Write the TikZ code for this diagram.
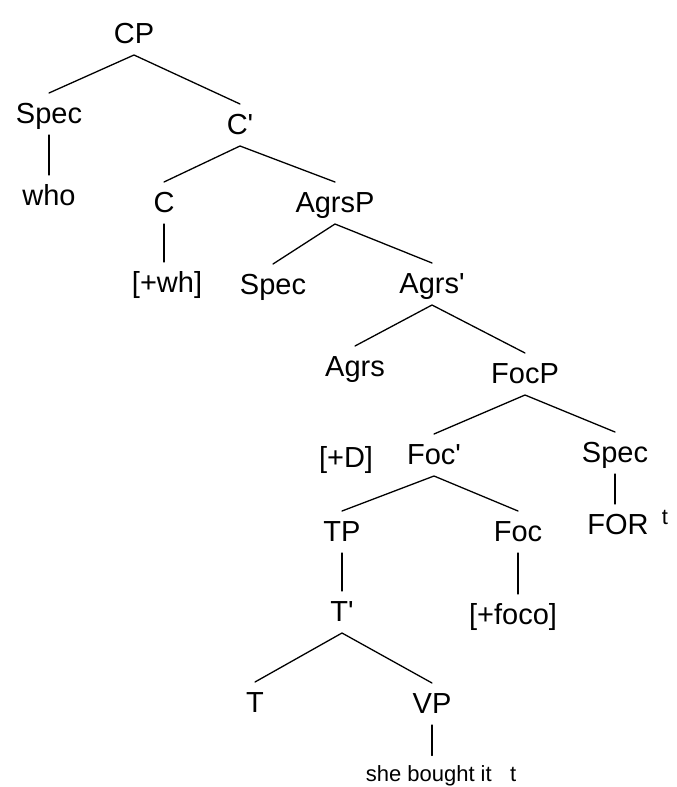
\documentclass[tikz,border=0pt]{standalone}
\usepackage{fontspec}
\setmainfont{Liberation Sans}[Ligatures=TeXOff]
\begin{document}
\begin{tikzpicture}[
  x=1pt,
  y=-1pt,
  line cap=round,
  line join=round,
  cat/.style={inner sep=0pt, outer ysep=10pt, text height=20pt, text depth=2pt,
    font=\fontsize{29}{29}\selectfont},
  leaf/.style={inner sep=0pt, outer ysep=10pt, text height=16pt, text depth=5pt,
    font=\fontsize{22}{22}\selectfont},
  branch/.style={line width=1.3pt}
]
  \useasboundingbox (0,0) rectangle (677,787);

  % CP
  \node[cat] (CP) at (134,34) {CP};
  \node[cat] (SpecA) at (49,114) {Spec};
  \node[cat] (who) at (49,196) {who};
  \node[cat] (Cbar) at (240,125) {C'};
  \node[cat] (C) at (164,203) {C};
  \node[cat] (wh) at (167,283) {[+wh]};

  % AgrsP
  \node[cat] (AgrsP) at (335,203) {AgrsP};
  \node[cat] (SpecB) at (273,285) {Spec};
  \node[cat] (Agrsbar) at (432,284) {Agrs'};
  \node[cat] (Agrs) at (355,367) {Agrs};

  % FocP
  \node[cat] (FocP) at (525,374) {FocP};
  \node[cat] (plusD) at (346,458) {[+D]};
  \node[cat] (Focbar) at (434,455) {Foc'};
  \node[cat] (SpecC) at (615,453) {Spec};
  \node[cat] (FOR) at (618,525) {FOR};
  \node[leaf] (trace) at (665,519) {t};
  \node[cat] (TP) at (342,532) {TP};
  \node[cat] (Foc) at (518,532) {Foc};
  \node[cat] (foco) at (513,615) {[+foco]};

  % TP
  \node[cat] (Tbar) at (342,612) {T'};
  \node[cat] (T) at (255,703) {T};
  \node[cat] (VP) at (432,704) {VP};
  \node[leaf] (she) at (441,776) {she bought it\ \ \ t};

  % Ramas
  \draw[branch] (SpecA.north) -- (CP.south) -- (Cbar.north);
  \draw[branch] (SpecA.south) -- (SpecA.south |- who.north);
  \draw[branch] (C.north) -- (Cbar.south) -- (AgrsP.north);
  \draw[branch] (C.south) -- (C.south |- wh.north);
  \draw[branch] (SpecB.north) -- (AgrsP.south) -- (Agrsbar.north);
  \draw[branch] (Agrs.north) -- (Agrsbar.south) -- (FocP.north);
  \draw[branch] (Focbar.north) -- (FocP.south) -- (SpecC.north);
  \draw[branch] (SpecC.south) -- (SpecC.south |- FOR.north);
  \draw[branch] (TP.north) -- (Focbar.south) -- (Foc.north);
  \draw[branch] (TP.south) -- (TP.south |- Tbar.north);
  \draw[branch] (Foc.south) -- (Foc.south |- foco.north);
  \draw[branch] (T.north) -- (Tbar.south) -- (VP.north);
  \draw[branch] (VP.south) -- (VP.south |- she.north);
\end{tikzpicture}
\end{document}
